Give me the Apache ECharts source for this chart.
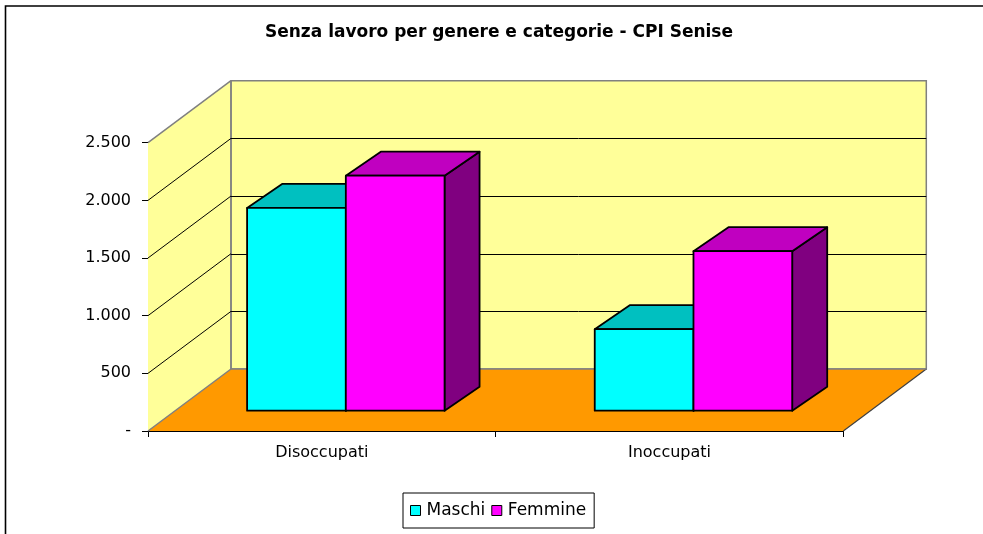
<!DOCTYPE html>
<html>
<head>
<meta charset="utf-8">
<script src="https://cdn.jsdelivr.net/npm/echarts@6/dist/echarts.min.js"></script>
<style>
html,body{margin:0;padding:0;background:#fff;}
#chart{width:983px;height:534px;}
</style>
</head>
<body>
<div id="chart"></div>
<script>
// ---- data ----
const categories = ['Disoccupati', 'Inoccupati'];
const seriesNames = ['Maschi', 'Femmine'];
const maschi = [1758, 707];
const femmine = [2038, 1383];
const yMax = 2500;
const yInterval = 500;
const gridValues = [500, 1000, 1500, 2000];

// ---- style / projection constants ----
const FONT = 'DejaVu Sans';
const WALL_DX = 83, WALL_DY = -62;     // full depth of the 3D box
const BAR_OX = 24, BAR_OY = -20.3;     // bar front plane offset
const BAR_DX = 35, BAR_DY = -24;       // bar depth
const BAR_FRAC = 0.284;                // bar width relative to category band
const colors = {
  front: ['#00FFFF', '#FF00FF'],
  top:   ['#00C0C0', '#C000C0'],
  side:  ['#008080', '#800080']
};

function fmt(v) {
  if (v === 0) return '-';
  return String(v).replace(/\B(?=(\d{3})+(?!\d))/g, '.');
}

const chart = echarts.init(document.getElementById('chart'), null, {renderer: 'canvas'});

function wallsRender(params, api) {
  const bw = api.size([1, 0])[0];
  const n = categories.length;
  const xl = api.coord([0, 0])[0] - bw / 2;
  const xr = api.coord([n - 1, 0])[0] + bw / 2;
  const y0 = api.coord([0, 0])[1];
  const yT = api.coord([0, yMax])[1];
  const gray = '#808080';
  const children = [];
  children.push({type: 'polygon', shape: {points: [[xl, y0], [xl, yT], [xl + WALL_DX, yT + WALL_DY], [xl + WALL_DX, y0 + WALL_DY]]},
    style: {fill: '#FFFF99', stroke: null}});
  children.push({type: 'rect', shape: {x: xl + WALL_DX, y: yT + WALL_DY, width: xr - xl, height: y0 - yT},
    style: {fill: '#FFFF99', stroke: gray, lineWidth: 1.5}});
  children.push({type: 'polygon', shape: {points: [[xl, y0], [xr, y0], [xr + WALL_DX, y0 + WALL_DY], [xl + WALL_DX, y0 + WALL_DY]]},
    style: {fill: '#FF9900', stroke: null}});
  children.push({type: 'line', shape: {x1: xl, y1: y0, x2: xl + WALL_DX, y2: y0 + WALL_DY}, style: {stroke: gray, lineWidth: 1.5}});
  children.push({type: 'line', shape: {x1: xr, y1: y0, x2: xr + WALL_DX, y2: y0 + WALL_DY}, style: {stroke: '#404040', lineWidth: 1.2}});
  children.push({type: 'line', shape: {x1: xl + WALL_DX, y1: y0 + WALL_DY, x2: xr + WALL_DX, y2: y0 + WALL_DY}, style: {stroke: gray, lineWidth: 1.5}});
  children.push({type: 'line', shape: {x1: xl, y1: yT, x2: xl + WALL_DX, y2: yT + WALL_DY}, style: {stroke: gray, lineWidth: 1.5}});
  children.push({type: 'line', shape: {x1: xl + WALL_DX, y1: yT + WALL_DY, x2: xl + WALL_DX, y2: y0 + WALL_DY}, style: {stroke: gray, lineWidth: 1.5}});
  gridValues.forEach(function (v) {
    const y = api.coord([0, v])[1];
    children.push({type: 'line', shape: {x1: xl, y1: y, x2: xl + WALL_DX, y2: y + WALL_DY}, style: {stroke: '#000', lineWidth: 1}});
    children.push({type: 'line', shape: {x1: xl + WALL_DX, y1: Math.round(y + WALL_DY) + 0.5, x2: xr + WALL_DX, y2: Math.round(y + WALL_DY) + 0.5}, style: {stroke: '#000', lineWidth: 1}});
  });
  return {type: 'group', children: children};
}

function barRender(si) {
  return function (params, api) {
    const i = api.value(0);
    const v = api.value(1);
    const c0 = api.coord([i, 0]);
    const c1 = api.coord([i, v]);
    const bw = api.size([1, 0])[0];
    const w = bw * BAR_FRAC;
    const x0 = c0[0] + BAR_OX + (si === 0 ? -w : 0);
    const x1 = x0 + w;
    const yb = c0[1] + BAR_OY;
    const yt = yb - (c0[1] - c1[1]);
    const st = {stroke: '#000', lineWidth: 1.8, lineJoin: 'round'};
    return {type: 'group', children: [
      {type: 'polygon', shape: {points: [[x1, yb], [x1, yt], [x1 + BAR_DX, yt + BAR_DY], [x1 + BAR_DX, yb + BAR_DY]]},
        style: Object.assign({fill: colors.side[si]}, st)},
      {type: 'polygon', shape: {points: [[x0, yt], [x1, yt], [x1 + BAR_DX, yt + BAR_DY], [x0 + BAR_DX, yt + BAR_DY]]},
        style: Object.assign({fill: colors.top[si]}, st)},
      {type: 'rect', shape: {x: x0, y: yt, width: w, height: yb - yt},
        style: Object.assign({fill: colors.front[si]}, st)}
    ]};
  };
}

const option = {
  animation: false,
  backgroundColor: '#fff',
  title: {
    text: 'Senza lavoro per genere e categorie - CPI Senise',
    left: 499, top: 24, textAlign: 'center', padding: 0,
    textStyle: {fontFamily: FONT, fontSize: 17, fontWeight: 'bold', color: '#000'}
  },
  graphic: [{
    type: 'rect', silent: true, z: 100,
    shape: {x: 5.5, y: 6, width: 1100, height: 1100},
    style: {fill: null, stroke: '#000', lineWidth: 1.6}
  }],
  legend: {
    left: 403, top: 493,
    padding: [9, 8, 9, 7],
    borderColor: '#000', borderWidth: 1,
    itemWidth: 10, itemHeight: 10, itemGap: 6,
    icon: 'rect',
    textStyle: {fontFamily: FONT, fontSize: 17, color: '#000', padding: [0, 0, 0, 1]},
    data: seriesNames.map(function (n, k) {
      return {name: n, itemStyle: {color: colors.front[k], borderColor: '#000', borderWidth: 1}};
    })
  },
  grid: {left: 148, right: 139.7, top: 142.7, bottom: 103},
  xAxis: {
    type: 'category', data: categories, boundaryGap: true,
    axisLine: {show: true, lineStyle: {color: '#000', width: 1}},
    axisTick: {show: true, length: 6, lineStyle: {color: '#000'}},
    axisLabel: {fontFamily: FONT, fontSize: 16, color: '#000', margin: 14},
    splitLine: {show: false}
  },
  yAxis: {
    type: 'value', min: 0, max: yMax, interval: yInterval,
    axisLine: {show: true, lineStyle: {color: '#000', width: 1}},
    axisTick: {show: true, length: 6, lineStyle: {color: '#000'}},
    axisLabel: {fontFamily: FONT, fontSize: 16, color: '#000', margin: 17, formatter: fmt},
    splitLine: {show: false}
  },
  series: [
    {type: 'custom', name: '_walls', clip: false, silent: true, z: 1,
      data: [[0, 0]], renderItem: wallsRender},
    {type: 'custom', name: seriesNames[0], clip: false, z: 3,
      itemStyle: {color: colors.front[0]},
      data: maschi.map(function (v, i) { return [i, v]; }), renderItem: barRender(0)},
    {type: 'custom', name: seriesNames[1], clip: false, z: 4,
      itemStyle: {color: colors.front[1]},
      data: femmine.map(function (v, i) { return [i, v]; }), renderItem: barRender(1)}
  ]
};
chart.setOption(option);
</script>
</body>
</html>
